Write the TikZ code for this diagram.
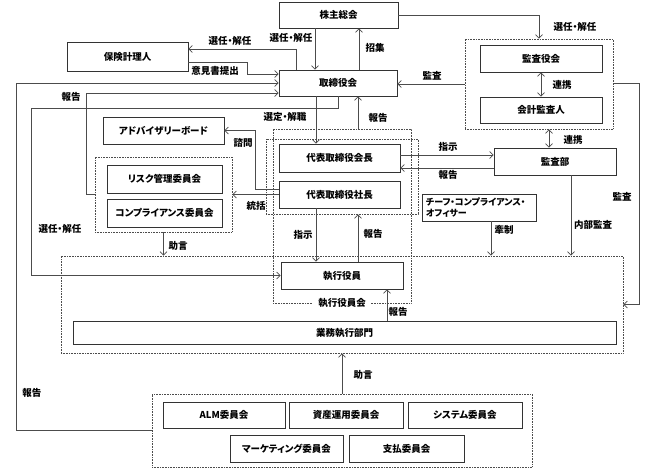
\documentclass[tikz,border=0pt]{standalone}
\usepackage{fontspec}
\setmainfont{Noto Sans CJK JP}[RawFeature=+palt]
\usetikzlibrary{arrows.meta}

\begin{document}
\begin{tikzpicture}[x=1pt,y=-1pt,
    font=\fontsize{9.5}{11}\selectfont\bfseries,
    box/.style={draw=black!80, line width=0.8pt, fill=white, inner sep=0pt},
    grp/.style={draw=black!70, densely dotted, line width=0.6pt, inner sep=0pt},
    line/.style={draw=black!70, line width=0.7pt},
    arr/.style={line, -{Straight Barb[length=3.5pt,width=7pt]}},
    dbl/.style={line, {Straight Barb[length=3.5pt,width=7pt]}-{Straight Barb[length=3.5pt,width=7pt]}}]
    \useasboundingbox (0,0) rectangle (649,469);
    \node [grp, minimum width=148, minimum height=90] (kansaGrp) at (539,84) {};
    \node [grp, minimum width=138, minimum height=174] (shikkoGrp) at (342,216) {};
    \node [grp, minimum width=152, minimum height=75] (daihyoGrp) at (342,176.5) {};
    \node [grp, minimum width=137, minimum height=75] (riskGrp) at (163.5,194.5) {};
    \node [grp, minimum width=562, minimum height=97] (gyomuGrp) at (342,304.5) {};
    \node [grp, minimum width=380, minimum height=73] (iinGrp) at (342,430.5) {};
    \node [fill=white, inner xsep=5pt, inner ysep=0pt] (lblShikkokai) at (342,303) {執行役員会};
    \node [box, minimum width=119, minimum height=26] (kabunushi) at (338.5,15) {株主総会};
    \node [box, minimum width=121, minimum height=29] (hoken) at (127.5,56.5) {保険計理人};
    \node [box, minimum width=118, minimum height=26] (torishimari) at (338,83) {取締役会};
    \node [box, minimum width=121, minimum height=27] (advisory) at (163.5,130.5) {アドバイザリーボード};
    \node [box, minimum width=121, minimum height=28] (kaicho) at (339.5,158) {代表取締役会長};
    \node [box, minimum width=121, minimum height=27] (shacho) at (339.5,194.5) {代表取締役社長};
    \node [box, minimum width=115, minimum height=28] (risk) at (164.5,179) {リスク管理委員会};
    \node [box, minimum width=115, minimum height=28] (compliance) at (164.5,213) {コンプライアンス委員会};
    \node [box, minimum width=122, minimum height=27] (kansayaku) at (541,58.5) {監査役会};
    \node [box, minimum width=122, minimum height=26] (kaikei) at (541,110) {会計監査人};
    \node [box, minimum width=122, minimum height=27] (kansabu) at (555,161.5) {監査部};
    \node [box, minimum width=114, minimum height=27, text width=106, align=left, font=\fontsize{9}{11}\selectfont\bfseries] (cco) at (479,207.5) {チーフ・コンプライアンス・\\オフィサー};
    \node [box, minimum width=122, minimum height=27] (shikko) at (342,275.5) {執行役員};
    \node [box, minimum width=543, minimum height=23] (gyomu) at (344.5,332.5) {業務執行部門};
    \node [box, minimum width=122, minimum height=26] (alm) at (224,415) {ALM委員会};
    \node [box, minimum width=114, minimum height=26] (shisan) at (346,415) {資産運用委員会};
    \node [box, minimum width=114, minimum height=26] (system) at (465,415) {システム委員会};
    \node [box, minimum width=113, minimum height=27] (marketing) at (286.5,448.5) {マーケティング委員会};
    \node [box, minimum width=115, minimum height=27] (shiharai) at (406.5,448.5) {支払委員会};
    \coordinate (a1) at ([xshift=-23pt]torishimari.north);
    \coordinate (a2) at ([xshift=21pt]torishimari.north);
    \coordinate (a3) at ([xshift=-22pt]torishimari.south);
    \coordinate (a4) at ([xshift=20pt]torishimari.south);
    \coordinate (a5) at ([yshift=3pt]kaicho.east);
    \coordinate (a6) at ([yshift=-6.5pt]kansabu.west);
    \coordinate (a7) at ([xshift=10pt]kansaGrp.south);
    \coordinate (a8) at ([xshift=16pt]kansabu.south);
    \coordinate (a9) at ([xshift=12pt]cco.south);
    \coordinate (a10) at ([xshift=-23.5pt]shacho.south);
    \coordinate (a11) at ([xshift=16pt]shikko.north);
    \coordinate (a12) at ([xshift=45pt]shikko.south);
    \draw [arr] (a1 |- kabunushi.south) -- (a1);
    \draw [arr] (a2) -- (a2 |- kabunushi.south);
    \draw [arr] ([xshift=-42pt]torishimari.north) |- ([yshift=7.5pt]hoken.east);
    \draw [arr] ([yshift=-5.5pt]hoken.east) -- ++(59,0) |- ([yshift=9pt]torishimari.west);
    \draw [arr] (iinGrp.west) -- ++(-135,0) |- (torishimari.west);
    \draw [arr] (riskGrp.west) -- ++(-8,0) |- ([yshift=-10pt]torishimari.west);
    \draw [arr] (torishimari.south) -- ++(0,12) -- ++(-307,0) |- (shikko.west);
    \draw [arr] (a3) -- (a3 |- kaicho.north);
    \draw [arr] (a4 |- shikkoGrp.north) -- (a4);
    \draw [arr] (a5) -- (a5 -| kansabu.west);
    \draw [arr] (a6) -- (a6 -| kaicho.east);
    \draw [arr] (kansaGrp.west) -- (kansaGrp.west -| torishimari.east);
    \draw [arr] (kabunushi.east) -| (kansaGrp.north);
    \draw [dbl] (kansayaku.south) -- (kaikei.north);
    \draw [dbl] (a7) -- (a7 |- kansabu.north);
    \draw [arr] ([yshift=1pt]kansaGrp.east) -- ++(26,0) |- (gyomuGrp.east);
    \draw [arr] (a8) -- (a8 |- gyomuGrp.north);
    \draw [arr] (a9) -- (a9 |- gyomuGrp.north);
    \draw [arr] (riskGrp.south) -- (riskGrp.south |- gyomuGrp.north);
    \draw [arr] ([yshift=5.5pt]shacho.west) -- ++(-23,0) |- (advisory.east);
    \draw [arr] (shacho.west) -- (riskGrp.east);
    \draw [arr] (a10) -- (a10 |- shikko.north);
    \draw [arr] (a11) -- (a11 |- daihyoGrp.south);
    \draw [arr] (a12 |- gyomu.north) -- (a12);
    \draw [arr] (iinGrp.north) -- (gyomuGrp.south);
    \node (lblShosyu) at (375,48) {招集};
    \node (lblSennin1) at (291,38) {選任・解任};
    \node (lblSennin2) at (230,41) {選任・解任};
    \node (lblIken) at (215,71) {意見書提出};
    \node (lblHokoku1) at (71,97) {報告};
    \node (lblHokoku2) at (32,393) {報告};
    \node (lblSennin3) at (60,229) {選任・解任};
    \node (lblSentei) at (285,117) {選定・解職};
    \node (lblHokoku3) at (378,118) {報告};
    \node (lblKansa1) at (432,76) {監査};
    \node (lblSennin4) at (575,27) {選任・解任};
    \node (lblRenkei1) at (562,85) {連携};
    \node (lblRenkei2) at (573,140) {連携};
    \node (lblShiji1) at (448,147) {指示};
    \node (lblHokoku4) at (448,175) {報告};
    \node (lblKansa2) at (622,197) {監査};
    \node (lblNaibu) at (593,225) {内部監査};
    \node (lblKensei) at (504,230) {牽制};
    \node (lblJogen1) at (178,246) {助言};
    \node (lblShimon) at (243,143) {諮問};
    \node (lblTokatsu) at (256,206) {統括};
    \node (lblShiji2) at (303,235) {指示};
    \node (lblHokoku5) at (373,234) {報告};
    \node (lblHokoku6) at (398,312) {報告};
    \node (lblJogen2) at (363,375) {助言};
\end{tikzpicture}
\end{document}
